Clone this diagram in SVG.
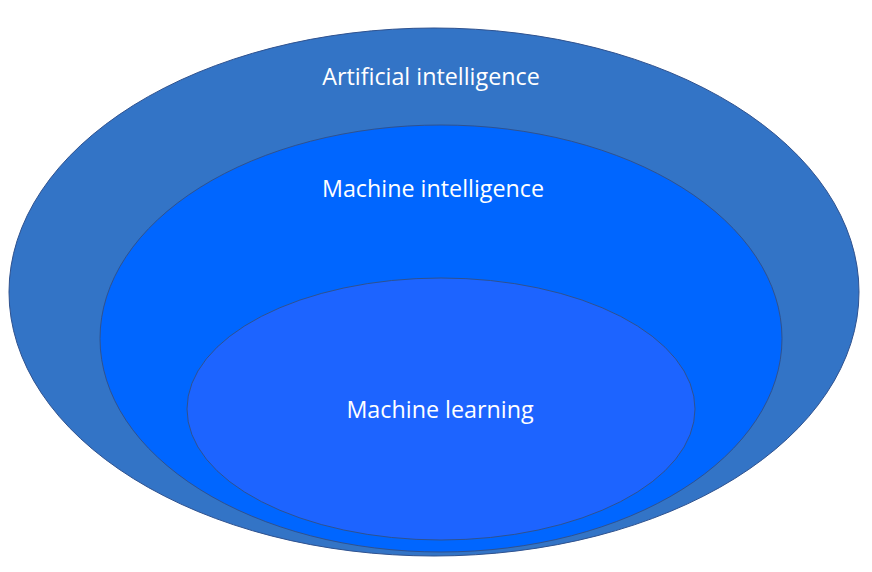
<svg xmlns="http://www.w3.org/2000/svg" width="872" height="572" viewBox="0 0 872 572">
<style>
.e{stroke:#2F528F;stroke-width:1}
.t{font-family:"Open Sans","Liberation Sans",sans-serif;font-size:23.3px;fill:#FFFFFF;text-anchor:middle}
</style>
<rect width="872" height="572" fill="#FFFFFF"/>
<g id="ai">
<ellipse class="e" cx="434" cy="292" rx="425" ry="264" fill="#3374C6"/>
<text class="t" x="431" y="85">Artificial intelligence</text>
</g>
<g id="mi">
<ellipse class="e" cx="441" cy="338.5" rx="341" ry="213.5" fill="#0066FF"/>
<text class="t" x="433" y="197">Machine intelligence</text>
</g>
<g id="ml">
<ellipse class="e" cx="441" cy="409" rx="254" ry="131" fill="#1D64FF"/>
<text class="t" x="440" y="418">Machine learning</text>
</g>
<g id="connectors"/>
</svg>
